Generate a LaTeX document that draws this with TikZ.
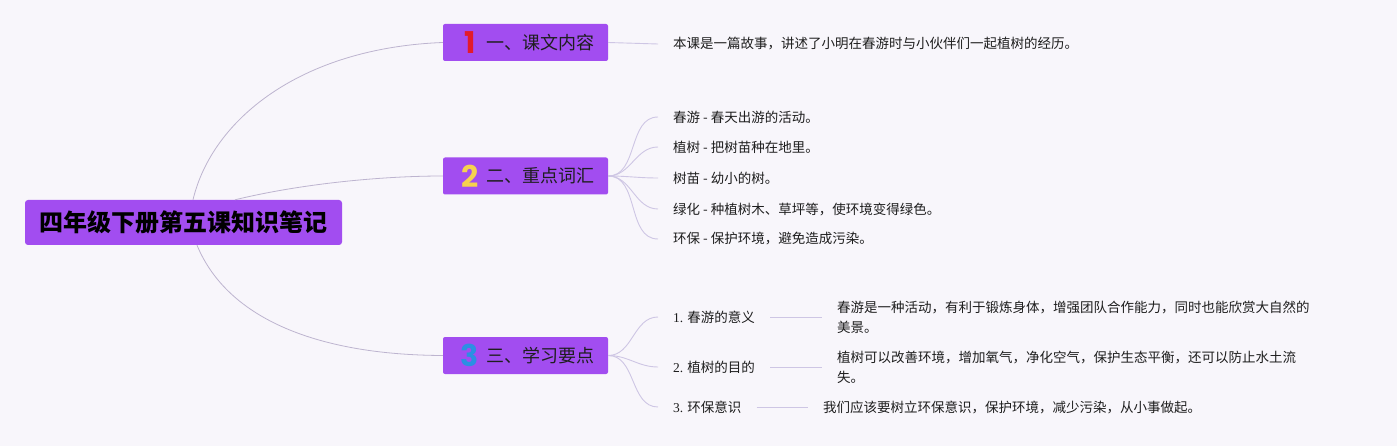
\documentclass[tikz,border=0pt]{standalone}
\usepackage{fontspec}
\setmainfont{Noto Sans CJK SC}
\newfontfamily\numfont{Poppins}
\newfontfamily\serifnum{Liberation Serif}
\usetikzlibrary{calc}
\definecolor{bg}{HTML}{F8F6FB}
\definecolor{boxp}{HTML}{A24DF0}
\definecolor{rootln}{HTML}{BDB4CF}
\definecolor{leafln}{HTML}{CEC6E4}
\definecolor{txt}{HTML}{1E1E1E}
\definecolor{cone}{HTML}{E31B2B}
\definecolor{ctwo}{HTML}{F6D24E}
\definecolor{cthree}{HTML}{2B8FE3}
\tikzset{
  rootbox/.style={fill=boxp, rounded corners=3pt, minimum width=317pt, minimum height=45pt, inner sep=0pt, text=black, font=\fontsize{24}{24}\selectfont\bfseries},
  brbox/.style={fill=boxp, rounded corners=2pt, minimum width=165pt, minimum height=37pt, inner sep=0pt},
  brnum/.style={inner sep=0pt, font=\fontsize{30}{30}\selectfont\numfont\bfseries},
  brtext/.style={inner sep=0pt, anchor=west, text=txt, font=\fontsize{18}{18}\selectfont},
  leaf/.style={inner sep=0pt, anchor=west, text=txt, font=\fontsize{13.5}{20}\selectfont, align=left},
  rootline/.style={draw=rootln, line width=0.8pt},
  leafline/.style={draw=leafln, line width=0.9pt},
}
\begin{document}
\begin{tikzpicture}[x=1pt,y=1pt]
\fill[bg] (0,0) rectangle (1397,-446);
\useasboundingbox (0,0) rectangle (1397,-446);

% root
\node[rootbox] (root) at (183.5,-222.5) {四年级下册第五课知识笔记};

% branch boxes
\node[brbox] (b1) at (525.5,-42.5) {};
\node[brbox] (b2) at (525.5,-176) {};
\node[brbox] (b3) at (525.5,-355.5) {};
\node[brnum, text=cone] (n1) at ($(b1.west)+(27,0)$) {1};
\node[brnum, text=ctwo] (n2) at ($(b2.west)+(27,0)$) {2};
\node[brnum, text=cthree] (n3) at ($(b3.west)+(27,0)$) {3};
\node[brtext] (t1) at ($(b1.west)+(43,0)$) {一、课文内容};
\node[brtext] (t2) at ($(b2.west)+(43,0)$) {二、重点词汇};
\node[brtext] (t3) at ($(b3.west)+(43,0)$) {三、学习要点};

% root connectors
\draw[rootline] ($(root.north)+(9.5,0)$) .. controls (212,-120) and (300,-48) .. (b1.west);
\draw[rootline] ($(root.north)+(51.5,0)$) .. controls (300,-184) and (380,-176) .. (b2.west);
\draw[rootline] ($(root.south)+(13.5,0)$) .. controls (228,-320) and (320,-355) .. (b3.west);

% branch 1
\node[leaf] (l11) at (673,-44) {本课是一篇故事，讲述了小明在春游时与小伙伴们一起植树的经历。};
\draw[leafline] (b1.east) -- ($(l11.west)+(-15,0)$);

% branch 2
\node[leaf] (l21) at (673,-117) {春游 - 春天出游的活动。};
\node[leaf] (l22) at (673,-147) {植树 - 把树苗种在地里。};
\node[leaf] (l23) at (673,-178) {树苗 - 幼小的树。};
\node[leaf] (l24) at (673,-209) {绿化 - 种植树木、草坪等，使环境变得绿色。};
\node[leaf] (l25) at (673,-239) {环保 - 保护环境，避免造成污染。};
\foreach \n in {l21,l22,l23,l24,l25}
  \draw[leafline] (b2.east) to[out=0,in=180] ($(\n.west)+(-15,0)$);

% branch 3
\node[leaf] (s1) at (673,-317) {{\serifnum 1.} 春游的意义};
\node[leaf] (s2) at (673,-367) {{\serifnum 2.} 植树的目的};
\node[leaf] (s3) at (673,-407) {{\serifnum 3.} 环保意识};
\foreach \n in {s1,s2,s3}
  \draw[leafline] (b3.east) to[out=0,in=180] ($(\n.west)+(-15,0)$);

\node[leaf] (p1) at (837,-317) {春游是一种活动，有利于锻炼身体，增强团队合作能力，同时也能欣赏大自然的\\美景。};
\node[leaf] (p2) at (837,-367) {植树可以改善环境，增加氧气，净化空气，保护生态平衡，还可以防止水土流\\失。};
\node[leaf] (p3) at (823,-407) {我们应该要树立环保意识，保护环境，减少污染，从小事做起。};
\draw[leafline] ($(s1.east)+(15,0)$) -- ($(p1.west)+(-15,0)$);
\draw[leafline] ($(s2.east)+(15,0)$) -- ($(p2.west)+(-15,0)$);
\draw[leafline] ($(s3.east)+(15,0)$) -- ($(p3.west)+(-15,0)$);
\end{tikzpicture}
\end{document}
